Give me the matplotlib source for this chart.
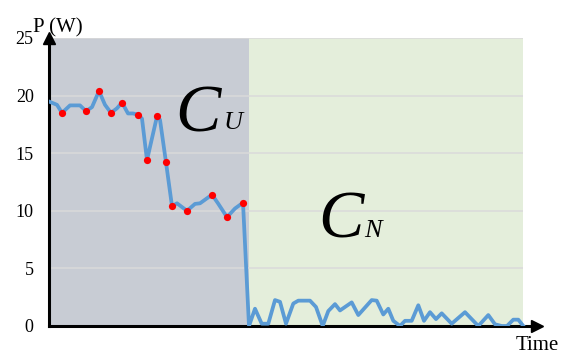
import matplotlib
matplotlib.use('Agg')
import matplotlib.pyplot as plt

# ── Power trace (time in arbitrary units, power in W) ──────────
t_values = [1, 8, 13, 21, 31, 37, 43, 50, 56, 62, 68, 73, 79, 84, 89, 93,
            98, 108, 111, 117, 123, 128, 138, 146, 151, 163, 169, 178, 186,
            194, 200, 206, 212.7, 219.3, 226, 231, 237, 244.3, 249.3, 261,
            267, 273.7, 279.3, 286, 291, 302.7, 309.3, 322.7, 327.7, 334.3,
            339.3, 344.3, 351, 356, 362.7, 369.3, 375, 381, 387, 392.7,
            402.7, 416, 429.3, 439.3, 446, 452.7, 458, 464.3, 469.3, 474.3]
p_values = [19.45, 19.2, 18.5, 19.15, 19.15, 18.65, 19.0, 20.4, 19.2, 18.5,
            18.9, 19.4, 18.45, 18.45, 18.35, 18.0, 14.4, 18.2, 17.9, 14.2,
            10.4, 10.65, 10.0, 10.6, 10.65, 11.4, 10.65, 9.45, 10.2, 10.7,
            0.0, 1.5, 0.2, 0.2, 2.25, 2.1, 0.2, 1.95, 2.2, 2.2,
            1.65, 0.0, 1.3, 1.9, 1.35, 2.05, 0.95, 2.25, 2.2, 1.0,
            1.5, 0.45, 0.0, 0.45, 0.45, 1.8, 0.45, 1.2, 0.6, 1.1,
            0.2, 1.2, 0.0, 0.95, 0.15, 0.0, 0.0, 0.55, 0.55, 0.0]

# samples flagged in red (indices into the trace)
marked_idx = [2, 5, 7, 9, 11, 14, 16, 17, 19, 20, 22, 25, 27, 29]

# region boundaries: C_U then C_N
cu_start, cu_end = 0, 200
cn_end = 474
y_ticks = [0, 5, 10, 15, 20, 25]

W, H = 576, 354
fig = plt.figure(figsize=(W / 100, H / 100), dpi=100)
fig.patch.set_facecolor('white')
ax = fig.add_axes([49 / W, 28 / H, 488 / W, 288 / H])
ax.set_facecolor('white')
ax.set_xlim(0, 488)
ax.set_ylim(0, 25)

serif = 'Liberation Serif'

# background regions
ax.axvspan(cu_start, cu_end, color='#c8ccd4', lw=0, zorder=0)
ax.axvspan(cu_end, cn_end, color='#e4eedb', lw=0, zorder=0)
ax.hlines(y_ticks[1:], 0, cn_end, colors='#dadada', lw=1.1, zorder=1)

# trace + flagged points
ax.plot(t_values, p_values, color='#5b9bd5', lw=2.7,
        solid_joinstyle='round', zorder=3)
ax.plot([t_values[i] for i in marked_idx], [p_values[i] for i in marked_idx],
        'o', color='#ff0000', ms=5.2, mec='none', zorder=4)

# axes with arrow heads
for s in ['top', 'right']:
    ax.spines[s].set_visible(False)
for s in ['left', 'bottom']:
    ax.spines[s].set_linewidth(2.2)
    ax.spines[s].set_color('black')
ax.plot(1, 0, '>', color='black', ms=8, transform=ax.transAxes, clip_on=False, zorder=5)
ax.plot(0, 1, '^', color='black', ms=8, transform=ax.transAxes, clip_on=False, zorder=5)

ax.set_xticks([])
ax.set_yticks(y_ticks)
ax.set_yticklabels([str(v) for v in y_ticks], family=serif, fontsize=13)
ax.tick_params(axis='y', length=0, pad=11)

# axis titles
fig.text(33 / W, 1 - 32 / H, 'P (W)', family=serif, fontsize=15, va='baseline')
fig.text(516 / W, 1 - 350 / H, 'Time', family=serif, fontsize=15, va='baseline')

# region labels
fig.text(175 / W, 1 - 131 / H, 'C', family=serif, style='italic', fontsize=49, va='baseline')
fig.text(224 / W, 1 - 129 / H, 'U', family=serif, style='italic', fontsize=19, va='baseline')
fig.text(318 / W, 1 - 238 / H, 'C', family=serif, style='italic', fontsize=49, va='baseline')
fig.text(364 / W, 1 - 237 / H, 'N', family=serif, style='italic', fontsize=19, va='baseline')

fig.savefig('out.png', dpi=100)
